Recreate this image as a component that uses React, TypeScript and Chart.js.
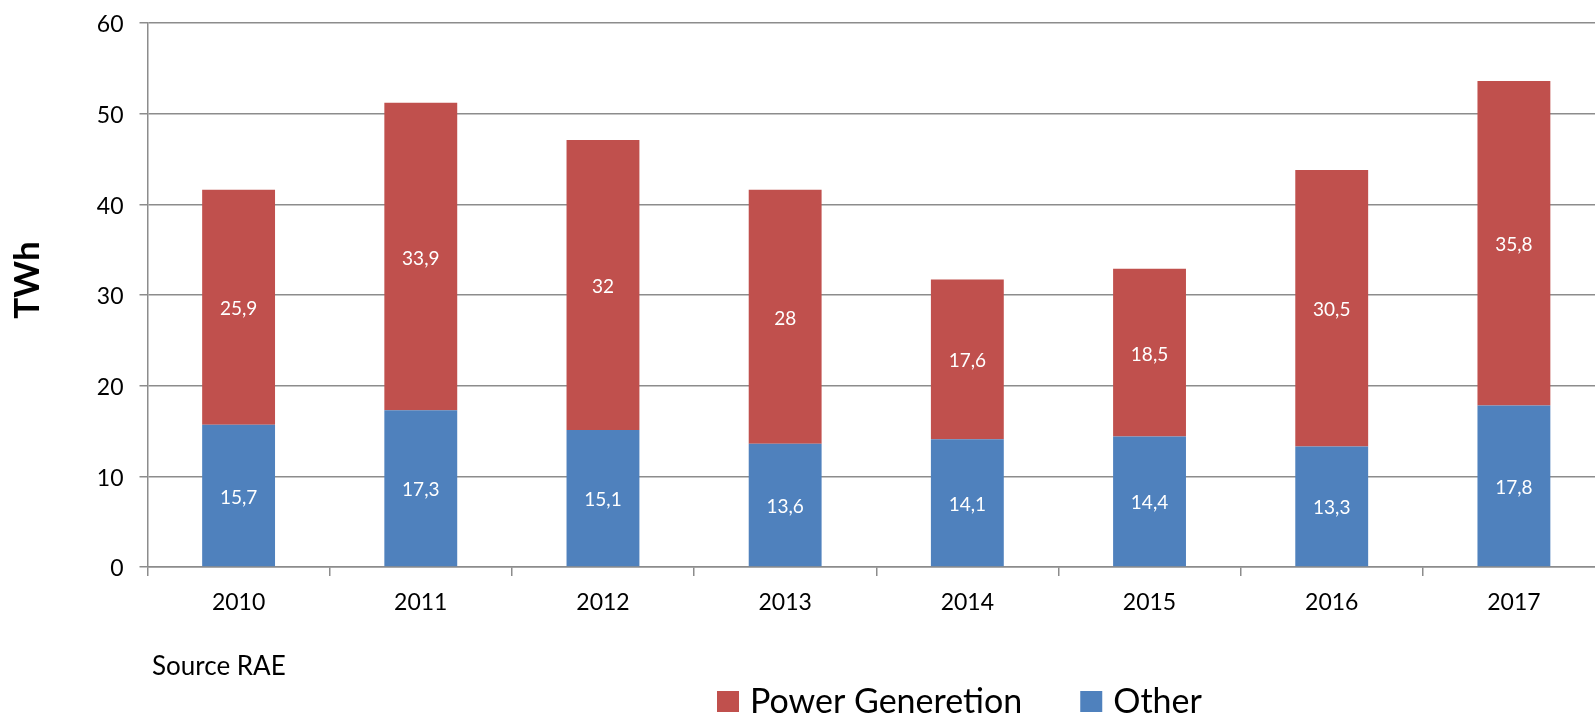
import React, { useEffect, useRef } from 'react';
import { Chart, registerables } from 'chart.js';

Chart.register(...registerables);

const years = ['2010', '2011', '2012', '2013', '2014', '2015', '2016', '2017'];
const powerGeneration = [25.9, 33.9, 32, 28, 17.6, 18.5, 30.5, 35.8];
const other = [15.7, 17.3, 15.1, 13.6, 14.1, 14.4, 13.3, 17.8];
const yMin = 0;
const yMax = 60;
const yStep = 10;
const axisTitle = 'TWh';
const sourceNote = 'Source RAE';

const RED = '#C0504D';
const BLUE = '#4F81BD';
const GRID = '#8c8c8c';
const FONT = 'Lato';

const overlayPlugin = {
  id: 'overlay',
  afterDatasetsDraw(chart: any) {
    const ctx = chart.ctx;
    ctx.save();
    ctx.fillStyle = '#ffffff';
    ctx.font = `19px ${FONT}`;
    ctx.textAlign = 'center';
    ctx.textBaseline = 'middle';
    chart.data.datasets.forEach((ds: any, i: number) => {
      const meta = chart.getDatasetMeta(i);
      meta.data.forEach((el: any, j: number) => {
        const p = el.getProps(['x', 'y', 'base'], true);
        ctx.fillText(String(ds.data[j]).replace('.', ','), p.x, (p.y + p.base) / 2 + 2);
      });
    });
    ctx.restore();
  },
  afterDraw(chart: any) {
    const ctx = chart.ctx;
    ctx.save();
    // axis title
    ctx.fillStyle = '#000000';
    ctx.translate(28, 280);
    ctx.rotate(-Math.PI / 2);
    ctx.font = `bold 35px ${FONT}`;
    ctx.textAlign = 'center';
    ctx.textBaseline = 'middle';
    ctx.fillText(axisTitle, 0, 0);
    ctx.restore();

    ctx.save();
    ctx.fillStyle = '#000000';
    ctx.font = `26px ${FONT}`;
    ctx.textAlign = 'left';
    ctx.textBaseline = 'middle';
    ctx.fillText(sourceNote, 152, 667);

    // legend
    const items = chart.data.datasets.slice().reverse();
    let x = 717;
    ctx.font = `34px ${FONT}`;
    items.forEach((ds: any) => {
      ctx.fillStyle = ds.backgroundColor;
      ctx.fillRect(x, 691, 22, 21);
      ctx.fillStyle = '#000000';
      ctx.fillText(ds.label, x + 33, 702);
      x += 33 + ctx.measureText(ds.label).width + 58;
    });
    ctx.restore();
  },
};

export default function App() {
  const ref = useRef<HTMLCanvasElement>(null);

  useEffect(() => {
    document.body.style.margin = '0';
    document.body.style.overflow = 'hidden';
    const canvas = ref.current!;
    const chart = new Chart(canvas, {
      type: 'bar',
      data: {
        labels: years,
        datasets: [
          { label: 'Other', data: other, backgroundColor: BLUE, borderWidth: 0 },
          { label: 'Power Generetion', data: powerGeneration, backgroundColor: RED, borderWidth: 0 },
        ],
      },
      options: {
        responsive: false,
        animation: false,
        layout: { padding: { left: 0, right: 5, top: 23, bottom: 0 } },
        datasets: { bar: { barPercentage: 0.4, categoryPercentage: 1 } },
        plugins: {
          legend: { display: false },
          tooltip: { enabled: false },
          title: { display: false },
        },
        scales: {
          x: {
            stacked: true,
            offset: true,
            grid: {
              offset: true,
              drawOnChartArea: false,
              drawTicks: true,
              tickLength: 9,
              color: GRID,
              lineWidth: 1.5,
            },
            border: { color: GRID, width: 1.5 },
            ticks: { color: '#000', font: { family: FONT, size: 23 }, padding: 13, maxRotation: 0 },
            afterFit: (scale: any) => {
              scale.height = 149;
              scale.paddingLeft = 0;
              scale.paddingRight = 0;
            },
          },
          y: {
            stacked: true,
            min: yMin,
            max: yMax,
            grid: { color: GRID, lineWidth: 1.5, tickLength: 8, drawTicks: true },
            border: { color: GRID, width: 1.5 },
            ticks: { stepSize: yStep, color: '#000', font: { family: FONT, size: 23 }, padding: 16, labelOffset: 2 },
            afterFit: (scale: any) => {
              scale.width = 147.5;
              scale.paddingTop = 0;
              scale.paddingBottom = 0;
            },
          },
        },
      },
      plugins: [overlayPlugin],
    });
    return () => chart.destroy();
  }, []);

  return (
    <div style={{ width: 1595, height: 716, overflow: 'hidden', position: 'relative', background: '#fff' }}>
      <canvas ref={ref} width={1610} height={716} style={{ width: 1610, height: 716, display: 'block' }} />
    </div>
  );
}
